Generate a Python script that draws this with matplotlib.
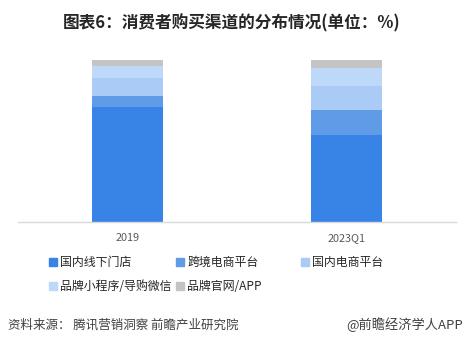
import numpy as np
import matplotlib.pyplot as plt
from matplotlib.patches import Patch

plt.rcParams['font.family'] = ['Noto Sans CJK SC', 'DejaVu Sans']

# данные
categories = ['2019', '2023Q1']
series_names = ['国内线下门店', '跨境电商平台', '国内电商平台', '品牌小程序/导购微信', '品牌官网/APP']
offline = [71, 54]
cross_border = [7, 15]
domestic_ec = [11, 15]
mini_program = [7, 11]
official_site = [4, 5]
colors = ['#3783E6', '#5F9BE6', '#A9CBF6', '#BED8FA', '#C4C4C4']

series = [offline, cross_border, domestic_ec, mini_program, official_site]

fig = plt.figure(figsize=(4.64, 3.46), dpi=100)
ax = fig.add_axes([18 / 464, 1 - 222 / 346, 438 / 464, 162 / 346])

x = np.arange(len(categories))
bottom = np.zeros(len(categories))
handles = []
for name, vals, c in zip(series_names, series, colors):
    ax.bar(x, vals, width=0.324, bottom=bottom, color=c, linewidth=0)
    bottom += np.array(vals)
    handles.append(Patch(color=c, label=name))

ax.set_xlim(-0.5, 1.5)
ax.set_ylim(0, 100)
ax.set_yticks([])
ax.set_xticks(x)
ax.set_xticklabels(categories, fontsize=7.8, color='#595959')
ax.tick_params(axis='x', length=0, pad=8)
for s in ['top', 'right', 'left']:
    ax.spines[s].set_visible(False)
ax.spines['bottom'].set_color('#D9D9D9')
ax.spines['bottom'].set_linewidth(1)

fig.text(0.5, 1 - 23 / 346, '图表6：消费者购买渠道的分布情况(单位：%)', ha='center', va='center',
         fontsize=12, fontweight='bold', color='#262626')

# легенда по колонкам
cols = [([handles[0], handles[3]], 49), ([handles[1], handles[4]], 176), ([handles[2]], 301)]
for hs, px in cols:
    leg = fig.legend(handles=hs, loc='upper left', bbox_to_anchor=(px / 464, 1 - 256 / 346),
                     frameon=False, fontsize=8.6, handlelength=0.65, handleheight=0.65,
                     handletextpad=0.3, labelspacing=0.95, borderaxespad=0, borderpad=0)
    for t in leg.get_texts():
        t.set_color('#262626')

fig.text(8 / 464, 1 - 325 / 346, '资料来源： 腾讯营销洞察 前瞻产业研究院', ha='left', va='center',
         fontsize=9, color='#404040')
fig.text(463 / 464, 1 - 325 / 346, '@前瞻经济学人APP', ha='right', va='center',
         fontsize=9.5, color='#404040')

fig.savefig('out.png', dpi=100)
